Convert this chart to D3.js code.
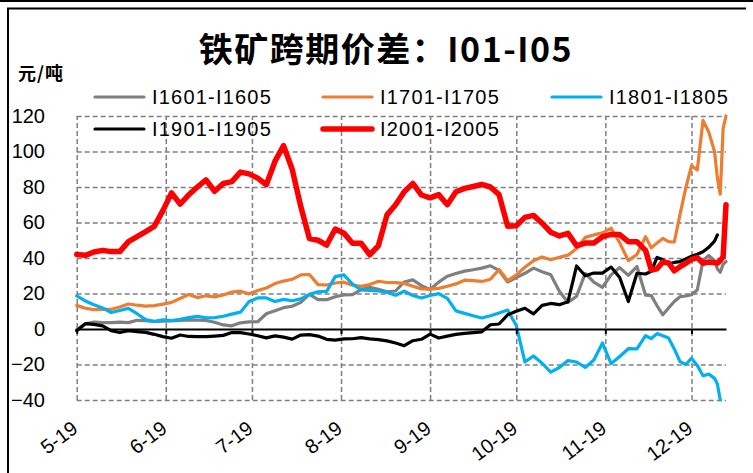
<!DOCTYPE html>
<html>
<head>
<meta charset="utf-8">
<script src="https://cdnjs.cloudflare.com/ajax/libs/d3/7.8.5/d3.min.js"></script>
<style>
  body { margin: 0; background: #fff; }
  svg { display: block; }
</style>
</head>
<body>
<div id="chart"></div>
<script>
// dates (m-yy axis), sampled through May-Dec 2019
var dates = ["2019-05-01","2019-05-04","2019-05-07","2019-05-10","2019-05-13","2019-05-16","2019-05-19","2019-05-22","2019-05-25","2019-05-28","2019-05-31",
  "2019-06-03","2019-06-06","2019-06-09","2019-06-12","2019-06-15","2019-06-18","2019-06-21","2019-06-24","2019-06-27","2019-06-30",
  "2019-07-03","2019-07-06","2019-07-09","2019-07-12","2019-07-15","2019-07-18","2019-07-21","2019-07-24","2019-07-27","2019-07-30",
  "2019-08-02","2019-08-05","2019-08-08","2019-08-11","2019-08-14","2019-08-17","2019-08-20","2019-08-23","2019-08-26","2019-08-29",
  "2019-09-01","2019-09-04","2019-09-07","2019-09-10","2019-09-13","2019-09-16","2019-09-19","2019-09-22","2019-09-25","2019-09-28",
  "2019-10-01","2019-10-04","2019-10-07","2019-10-10","2019-10-13","2019-10-16","2019-10-19","2019-10-22","2019-10-25","2019-10-28","2019-10-31",
  "2019-11-03","2019-11-06","2019-11-09","2019-11-12","2019-11-15","2019-11-17","2019-11-19","2019-11-21","2019-11-23","2019-11-25","2019-11-27","2019-11-29",
  "2019-12-01","2019-12-03","2019-12-05","2019-12-07","2019-12-09","2019-12-10","2019-12-11","2019-12-12","2019-12-13"];

var i1601 = [-0.5,2.9,3.9,3.6,3.6,3.9,3.6,4.9,4.7,4.3,4.4,
  4.6,4.8,5.1,5,4.8,3.8,2.3,1.8,3.5,4,
  4.1,8.6,10.3,12,12.8,15,19.5,16.5,16.5,18.2,
  19.2,19.4,22.2,23.5,22.4,21,21.4,26.5,27.7,24.4,
  22.3,26.4,29.7,31.3,32.6,33.4,34.3,35.6,33,26.5,
  29,31.4,34.3,32.3,30.5,21.3,14.9,18.5,31.3,26.4,23.4,
  30.5,34.6,30.2,35.2,19,18.8,13.1,8,11.8,15.5,18.2,18.6,
  19.3,22,38.5,41.5,38.5,34,32,36.5,38];

var i1701 = [13.3,11.7,10.9,11.1,11.1,12.4,14.1,13.4,12.9,13.2,14,
  15,17.2,19.5,17.7,18.7,18.1,19.2,20.8,21.3,19.8,
  21.7,23.1,25.6,27,28,30.5,30.7,25,24.8,25.9,
  26.4,24.7,24,25.1,26.9,26.2,26.1,25.7,24.1,22.6,
  22.5,22.9,24.1,25.4,27.5,27.2,26.8,28,33.5,27.3,
  30.5,34.8,38.5,40.6,39,40.4,41.6,45.3,51.6,53,54.2,
  56.8,48.6,38.5,42,52,45.7,48.5,51,49.2,49,64.6,79.5,
  92,89.6,117.5,111,100,85,76,113,120];

var i1801 = [18.6,15.8,13.7,11.9,9.3,10.4,11.6,8.6,5.3,4.2,5.1,
  4.8,5.5,6.4,7.2,6.3,6.4,7.2,8.4,9.5,15.5,
  17.5,17.5,15.5,16.7,15.9,17,19.5,21,21.2,29.5,
  30.5,25.3,22,21.7,21.4,20.7,19,21.3,18.9,17.5,
  18.9,19.9,17.3,10.2,8.8,7.5,6.2,7.5,9,10.7,
  2,-18.5,-15.2,-19.3,-24.3,-21.7,-17.8,-18.6,-21.7,-17.5,-7.9,
  -19.5,-15.5,-11.1,-11.2,-3.8,-5.4,-2.6,-3.8,-5.1,-11.2,-18.4,-20,
  -16.5,-20.5,-26.3,-25.4,-27.8,-31,-40,null,null];

var i1901 = [-1,3,2.6,1.8,-0.9,-2,-0.9,-1.5,-1.9,-3,-4.3,
  -5.2,-3.4,-4.2,-4.3,-4.3,-4,-3.6,-2,-2,-2.8,
  -3.8,-5,-3.9,-4.6,-5.7,-3.4,-3.2,-4,-5.8,-6.3,
  -5.6,-5.5,-4.9,-5.6,-6,-6.7,-7.9,-9.4,-6.6,-5.8,
  -2.9,-5.1,-4,-3,-2.5,-2,-1.6,2.4,2.8,8,
  10,11.7,8.5,13.3,14.4,13.7,15.4,35.5,30,31.5,31.5,
  34.9,29,15.5,31.4,31,32.5,40.3,39,36.6,37.5,38,39.5,
  41,42.1,43.5,46,49.5,53,null,null,null];

var i2001 = [42,41.5,43.4,44.3,43.6,43.6,49.2,52.1,54.9,57.8,66.7,
  76.7,70.4,75.6,80,84,77.6,82,83,88.4,87.4,
  85,81.3,94.4,103.3,90,69,51,50,47.3,56.3,
  54,48.3,48.3,41.8,46.9,64.3,70,77.3,82,75.5,
  73.9,75.7,70,77.3,79.2,80.3,81.5,80,75.7,57.9,
  58.2,62.9,64,59.6,54.5,52.4,53.9,46.9,48.4,48.5,52,
  53.3,53.2,49.2,49.2,44.3,33.2,33.9,37.8,37.2,32.8,35.1,37,
  39.2,40.2,37,37.8,37.4,37.1,38.5,40.7,70];

var yTicks = [-40, -20, 0, 20, 40, 60, 80, 100, 120];

var series = [
  {name: "I1601-I1605", values: i1601, color: "#7f7f7f", width: 3.2},
  {name: "I1701-I1705", values: i1701, color: "#ed7d31", width: 3.2},
  {name: "I1801-I1805", values: i1801, color: "#00b0f0", width: 3.2},
  {name: "I1901-I1905", values: i1901, color: "#000000", width: 3.2},
  {name: "I2001-I2005", values: i2001, color: "#ff0000", width: 5.5}
];

var W = 753, H = 473;
var parse = d3.timeParse("%Y-%m-%d");
var dts = dates.map(parse);

var svg = d3.select("#chart").append("svg")
  .attr("width", W).attr("height", H);

// frame
svg.append("line").attr("x1", 0).attr("x2", W).attr("y1", 1).attr("y2", 1)
  .attr("stroke", "#000").attr("stroke-width", 2);
svg.append("path").attr("d", "M8,473 V8.5 H746")
  .attr("fill", "none").attr("stroke", "#000").attr("stroke-width", 2);

var x = d3.scaleTime()
  .domain([dts[0], dts[dts.length - 1]])
  .range([76.7, 726]);
var y = d3.scaleLinear()
  .domain([-40, 120])
  .range([400, 116]);

var xTicks = d3.timeMonth.range(dts[0], d3.timeDay.offset(dts[dts.length - 1], 1));

// grid, built from the axes
var hGrid = svg.append("g")
  .attr("transform", "translate(" + x.range()[0] + ",0)")
  .call(d3.axisLeft(y).tickValues(yTicks.filter(function(v) { return v !== 0; }))
    .tickSize(-(x.range()[1] - x.range()[0])).tickFormat(""));
var vGrid = svg.append("g")
  .attr("transform", "translate(0," + y(-40) + ")")
  .call(d3.axisBottom(x).tickValues(xTicks)
    .tickSize(-(y(-40) - y(120))).tickFormat(""));
[hGrid, vGrid].forEach(function(g) {
  g.select(".domain").remove();
  g.selectAll(".tick line")
    .attr("stroke", "#808080")
    .attr("stroke-width", 1.5)
    .attr("stroke-dasharray", "5,3");
});
// tiny slope so the horizontal lines never have a flat, zero-height box
hGrid.selectAll(".tick line").attr("y1", 0).attr("y2", 0.02);

// y labels
var yAxis = svg.append("g")
  .attr("transform", "translate(45,0)")
  .call(d3.axisLeft(y).tickValues(yTicks).tickSize(0).tickPadding(0));
yAxis.select(".domain").remove();
yAxis.selectAll("text")
  .attr("font-family", "'Liberation Sans', Arial, sans-serif")
  .attr("font-size", 20).attr("fill", "#000");

// x labels
var xLab = svg.append("g")
  .attr("transform", "translate(0,400)")
  .call(d3.axisBottom(x).tickValues(xTicks).tickSize(0).tickFormat(d3.timeFormat("%-m-%y")));
xLab.select(".domain").remove();
xLab.selectAll("text")
  .attr("font-family", "'Liberation Sans', Arial, sans-serif")
  .attr("font-size", 20).attr("fill", "#000")
  .attr("y", 0).attr("dy", 0)
  .attr("text-anchor", "end")
  .attr("transform", "translate(2,31) rotate(-37)");

// series
var line = d3.line()
  .defined(function(d) { return d.v != null; })
  .x(function(d) { return x(d.t); })
  .y(function(d) { return y(d.v); });

series.forEach(function(s) {
  var pts = dts.map(function(t, i) { return {t: t, v: s.values[i]}; });
  svg.append("path")
    .datum(pts)
    .attr("fill", "none")
    .attr("stroke", s.color)
    .attr("stroke-width", s.width)
    .attr("stroke-linejoin", "round")
    .attr("stroke-linecap", "round")
    .attr("d", line);
});

// zero axis with ticks
var zero = svg.append("g")
  .attr("transform", "translate(0," + y(0) + ")")
  .call(d3.axisBottom(x).tickValues(xTicks).tickSize(5).tickSizeOuter(0).tickFormat(""));
zero.select(".domain").attr("stroke-width", 2);
zero.selectAll(".tick line").attr("stroke-width", 2);

// title
svg.append("text")
  .attr("x", 386).attr("y", 62)
  .attr("text-anchor", "middle")
  .attr("font-family", "'Noto Sans CJK SC', sans-serif")
  .attr("font-weight", "bold")
  .attr("font-size", 34)
  .attr("letter-spacing", 1.5)
  .text("铁矿跨期价差：I01-I05");

svg.append("text")
  .attr("x", 18).attr("y", 80)
  .attr("font-family", "'Noto Sans CJK SC', sans-serif")
  .attr("font-weight", "bold")
  .attr("font-size", 18)
  .attr("letter-spacing", 1)
  .text("元/吨");

// legend
var legPos = [[95, 97], [323, 97], [552, 97], [95, 129], [323, 129]];
var leg = svg.append("g");
series.forEach(function(s, i) {
  var p = legPos[i];
  leg.append("line")
    .attr("x1", p[0]).attr("x2", p[0] + 49)
    .attr("y1", p[1]).attr("y2", p[1])
    .attr("stroke", s.color).attr("stroke-width", s.width)
    .attr("stroke-linecap", "round");
  leg.append("text")
    .attr("x", p[0] + 57).attr("y", p[1])
    .attr("dy", "0.36em")
    .attr("font-family", "'Liberation Sans', Arial, sans-serif")
    .attr("font-size", 20)
    .attr("letter-spacing", 1.2)
    .attr("fill", "#000")
    .text(s.name);
});
</script>
</body>
</html>
